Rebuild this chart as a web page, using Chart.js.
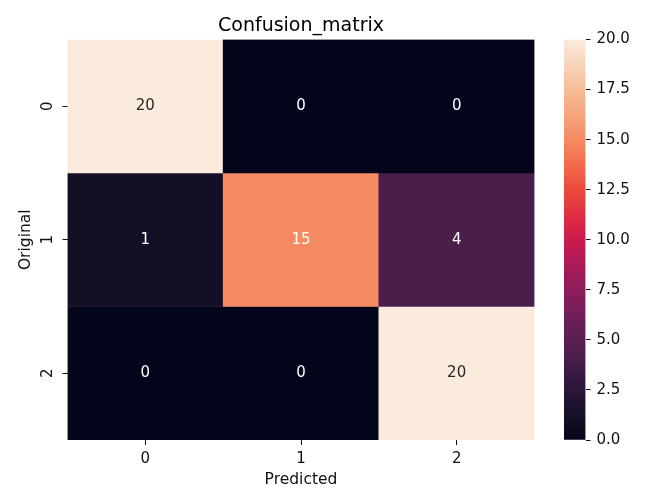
<!DOCTYPE html>
<html>
<head>
<meta charset="utf-8">
<script src="https://cdn.jsdelivr.net/npm/chart.js@4.4.1/dist/chart.umd.min.js"></script>
<style>
  html, body { margin: 0; padding: 0; background: #fff; }
  .wrap { position: relative; width: 652px; height: 499px; }
  .layer { position: absolute; left: 0; top: 0; width: 652px; height: 499px; }
</style>
</head>
<body>
<div class="wrap">
  <div class="layer"><canvas id="heatmap"></canvas></div>
  <div class="layer"><canvas id="colorbar"></canvas></div>
</div>
<script>
const predictedLabels = ['0', '1', '2'];
const originalLabels = ['0', '1', '2'];
const row0 = [20, 0, 0];
const row1 = [1, 15, 4];
const row2 = [0, 0, 20];
const colorbarTicks = [0, 2.5, 5, 7.5, 10, 12.5, 15, 17.5, 20];
const vmin = 0;
const vmax = 20;

// rough samples of seaborn's "rocket" map
const rocketStops = [
  [0.0, '#03051a'], [0.05, '#140f25'], [0.1, '#221331'], [0.15, '#331840'],
  [0.2, '#4a1e4b'], [0.25, '#5b1e51'], [0.3, '#6c1f56'], [0.375, '#8c1d5b'],
  [0.45, '#b11a57'], [0.5, '#cb1b4f'], [0.55, '#dc2a45'], [0.625, '#ec4a3c'],
  [0.7, '#f3714f'], [0.75, '#f58a63'], [0.8, '#f59f77'], [0.875, '#f6bc98'],
  [0.94, '#f8d6bd'], [1.0, '#faebdd']
];

function hexToRgb(h) {
  return [parseInt(h.slice(1, 3), 16), parseInt(h.slice(3, 5), 16), parseInt(h.slice(5, 7), 16)];
}

function rocket(t) {
  t = Math.max(0, Math.min(1, t));
  for (let i = 1; i < rocketStops.length; i++) {
    const [t1, c1] = rocketStops[i];
    const [t0, c0] = rocketStops[i - 1];
    if (t <= t1) {
      const f = (t - t0) / (t1 - t0);
      const a = hexToRgb(c0), b = hexToRgb(c1);
      const rgb = a.map((v, k) => Math.round(v + (b[k] - v) * f));
      return 'rgb(' + rgb.join(',') + ')';
    }
  }
  return rocketStops[rocketStops.length - 1][1];
}

function valueColor(v) {
  return rocket((v - vmin) / (vmax - vmin));
}

function textColor(v) {
  const rgb = valueColor(v).match(/\d+/g).map(Number).map(c => {
    c = c / 255;
    return c <= 0.03928 ? c / 12.92 : Math.pow((c + 0.055) / 1.055, 2.4);
  });
  const lum = 0.2126 * rgb[0] + 0.7152 * rgb[1] + 0.0722 * rgb[2];
  return lum > 0.408 ? '#262626' : '#ffffff';
}

const matrix = [row0, row1, row2];
const FONT = 'DejaVu Sans';
const INK = '#111111';

// write the counts in each cell
const cellText = {
  id: 'cellText',
  afterDatasetsDraw(chart) {
    const ctx = chart.ctx;
    ctx.save();
    ctx.font = '15px "' + FONT + '"';
    ctx.textAlign = 'center';
    ctx.textBaseline = 'middle';
    chart.data.datasets.forEach((ds, i) => {
      chart.getDatasetMeta(i).data.forEach((bar, j) => {
        const v = ds.values[j];
        ctx.fillStyle = textColor(v);
        ctx.fillText(String(v), bar.x, (bar.y + bar.base) / 2);
      });
    });
    ctx.restore();
  }
};

new Chart(document.getElementById('heatmap'), {
  type: 'bar',
  data: {
    labels: predictedLabels,
    datasets: matrix.map((vals, r) => ({
      data: vals.map(() => [r - 0.5, r + 0.5]),
      values: vals,
      backgroundColor: vals.map(valueColor),
      borderWidth: 0,
      grouped: false,
      barPercentage: 1,
      categoryPercentage: 1
    }))
  },
  options: {
    responsive: true,
    maintainAspectRatio: false,
    animation: false,
    layout: { padding: { top: 0, right: 117.5, bottom: 0, left: 0 } },
    plugins: {
      legend: { display: false },
      tooltip: { enabled: false },
      title: {
        display: true,
        fullSize: false,
        text: 'Confusion_matrix',
        color: '#000',
        font: { family: FONT, size: 19, weight: 'normal' },
        padding: { top: 14.6, bottom: 2.1 }
      }
    },
    scales: {
      x: {
        offset: true,
        grid: { display: true, drawOnChartArea: false, offset: false, tickLength: 5, tickColor: INK },
        border: { display: false },
        ticks: { color: INK, font: { family: FONT, size: 15 }, padding: 5.5 },
        title: { display: true, text: 'Predicted', color: INK, font: { family: FONT, size: 15.5 }, padding: { top: 0, bottom: 10 } },
        afterFit(s) { s.height = 59; }
      },
      y: {
        type: 'linear',
        reverse: true,
        min: -0.5,
        max: 2.5,
        afterBuildTicks(s) { s.ticks = originalLabels.map((_, i) => ({ value: i })); },
        grid: { display: true, drawOnChartArea: false, tickLength: 5, tickColor: INK },
        border: { display: false },
        ticks: {
          color: INK,
          font: { family: FONT, size: 15 },
          minRotation: 90,
          maxRotation: 90,
          crossAlign: 'center',
          padding: 9.2,
          callback: v => originalLabels[v]
        },
        title: { display: true, text: 'Original', color: INK, font: { family: FONT, size: 15.5 }, padding: { top: 17, bottom: 0 } },
        afterFit(s) { s.width = 67.5; }
      }
    }
  },
  plugins: [cellText]
});

function barGradient(context) {
  const area = context.chart.chartArea;
  if (!area) return valueColor(vmax);
  const g = context.chart.ctx.createLinearGradient(0, area.bottom, 0, area.top);
  for (let i = 0; i <= 40; i++) {
    g.addColorStop(i / 40, rocket(i / 40));
  }
  return g;
}

new Chart(document.getElementById('colorbar'), {
  type: 'bar',
  data: {
    labels: [''],
    datasets: [{
      data: [[vmin, vmax]],
      backgroundColor: barGradient,
      borderWidth: 0,
      barPercentage: 1,
      categoryPercentage: 1
    }]
  },
  options: {
    responsive: true,
    maintainAspectRatio: false,
    animation: false,
    layout: { padding: { top: 39.5, right: 0, bottom: 59, left: 564 } },
    plugins: { legend: { display: false }, tooltip: { enabled: false } },
    scales: {
      x: { display: false },
      y: {
        position: 'right',
        min: vmin,
        max: vmax,
        afterBuildTicks(s) { s.ticks = colorbarTicks.map(v => ({ value: v })); },
        grid: { display: true, drawOnChartArea: false, tickLength: 5, tickColor: INK },
        border: { display: false },
        ticks: { color: INK, font: { family: FONT, size: 15 }, padding: 6, callback: v => v.toFixed(1) },
        afterFit(s) { s.width = 66.5; }
      }
    }
  }
});
</script>
</body>
</html>
